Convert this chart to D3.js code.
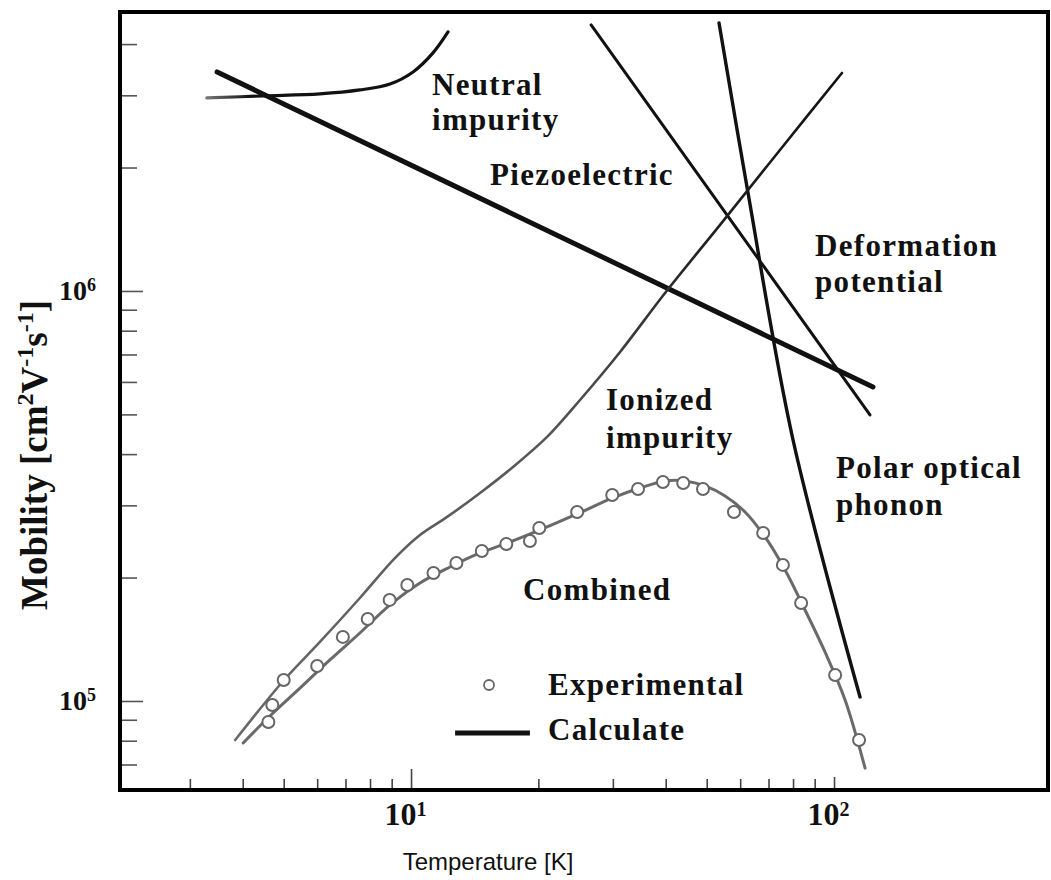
<!DOCTYPE html>
<html><head><meta charset="utf-8">
<script src="https://cdn.jsdelivr.net/npm/d3@7"></script>
<style>body{margin:0;background:#fff}</style>
</head><body>
<svg id="chart" width="1051" height="880"></svg>
<script>
// ---- tick values ----
const xTicks = [3,4,5,6,7,8,9,10,20,30,40,50,60,70,80,90,100];
const xMajor = [10,100];
const yTicks = [7e4,8e4,9e4,1e5,2e5,3e5,4e5,5e5,6e5,7e5,8e5,9e5,1e6,2e6,3e6,4e6];
const yMajor = [1e5,1e6];

// ---- experimental points ----
const expT  = [4.6,4.7,5.0,6.0,6.9,7.9,8.9,9.8,11.3,12.8,14.7,16.8,19.1,20.1,24.7,29.9,34.4,39.4,44.0,49.0,58.0,68.0,75.7,83.6,100.6,114.6];
const expMu = [88900,97800,112500,121700,143300,158500,176400,191800,205200,217100,232200,241500,245600,264200,289100,318000,328900,342100,340200,328900,289100,256900,214700,173400,115700,80300];

// ---- calculated curves ----
const combT  = [4.01,4.64,5.47,6.43,7.57,8.92,10.5,12.36,14.56,17.14,20.18,24.69,29.87,34.78,39.86,44.45,49.55,55.25,61.6,68.7,76.6,85.4,95.2,106.2,118.4];
const combMu = [79000,91900,107600,125900,146500,171500,194000,212200,229600,244200,261300,285800,312600,330700,344000,344000,334500,316200,289100,251200,208700,166700,131700,100600,68600];

const ionT  = [3.84,5.01,6.09,7.57,9.17,10.5,12.17,14.56,17.42,20.97,25.09,31.2,39.86,53.77,74.5,104.4];
const ionMu = [80300,112500,139300,178300,223300,254000,281100,321600,372100,440500,542100,709900,988800,1449000,2207000,3401000];

const neuT  = [3.29,4.47,6.09,7.57,8.92,10.11,11.27,12.23];
const neuMu = [2956000,2990000,3024000,3092000,3197000,3421000,3807000,4282000];

const piezoT  = [3.48,123.6];
const piezoMu = [3421000,583200];

const defT  = [26.65,121.6];
const defMu = [4455000,498500];

const polT  = [53.47,62.62,80.0,115.2];
const polMu = [4505000,1734000,433000,102300];

// ---- annotation anchors (data units) ----
const labelText = ["Neutral","impurity","Piezoelectric","Deformation","potential","Ionized","impurity","Polar optical","phonon","Combined"];
const labelT    = [11.21,11.21,15.38,90.2,90.2,28.9,28.9,101.1,101.1,18.4];
const labelMu   = [3.006e6,2.470e6,1.814e6,1.217e6,0.994e6,5.127e5,4.141e5,3.499e5,2.843e5,1.764e5];

const svg = d3.select("#chart");
const L = 120, R = 1048, T = 12, B = 790;

const x = d3.scaleLog().domain([2.051, 320.5]).range([L, R]);
const y = d3.scaleLog().domain([60660, 4.79e6]).range([B, T]);

const serif = "'Liberation Serif','Times New Roman',serif";

// ---- axes ----
const xAxis = d3.axisBottom(x).tickValues(xTicks).tickSizeInner(-11).tickSizeOuter(0).tickPadding(12)
  .tickFormat(d => "");
const gx = svg.append("g").attr("transform", `translate(0,${B})`).call(xAxis);
gx.select(".domain").remove();
gx.selectAll(".tick line").attr("stroke", "#444").attr("stroke-width", 1.6)
  .attr("y2", d => d === 10 ? -21 : (d === 100 ? -13 : -11));
gx.selectAll(".tick text").each(function(d) {
  if (xMajor.includes(d)) {
    const t = d3.select(this).text("").attr("font-family", serif).attr("font-weight", "bold")
      .attr("font-size", 32).attr("fill", "#111").attr("dx", -6);
    t.append("tspan").text("10");
    t.append("tspan").attr("font-size", 20).attr("dy", -9).text(Math.round(Math.log10(d)));
  }
});

const yAxis = d3.axisLeft(y).tickValues(yTicks).tickSizeInner(-17).tickSizeOuter(0).tickPadding(24)
  .tickFormat(d => "");
const gy = svg.append("g").attr("transform", `translate(${L},0)`).call(yAxis);
gy.select(".domain").remove();
gy.selectAll(".tick line").attr("stroke", "#555").attr("stroke-width", 1.6)
  .attr("x2", d => yMajor.includes(d) ? 23 : 17);
gy.selectAll(".tick text").each(function(d) {
  if (yMajor.includes(d)) {
    const t = d3.select(this).text("").attr("font-family", serif).attr("font-weight", "bold")
      .attr("font-size", 28).attr("fill", "#111").attr("dy", "0.3em");
    t.append("tspan").text("10");
    t.append("tspan").attr("font-size", 18).attr("dy", -9).text(Math.round(Math.log10(d)));
  }
});

// frame
svg.append("rect").attr("x", L).attr("y", T).attr("width", R - L).attr("height", B - T)
  .attr("fill", "none").attr("stroke", "#000").attr("stroke-width", 4);

// ---- lines ----
const line = d3.line().x(d => x(d[0])).y(d => y(d[1])).curve(d3.curveCatmullRom.alpha(0.5));
const zipP = (a, b) => a.map((v, i) => [v, b[i]]);

const defs = svg.append("defs");
const grad = defs.append("linearGradient").attr("id", "ionGrad").attr("gradientUnits", "userSpaceOnUse")
  .attr("x1", x(ionT[0])).attr("y1", y(ionMu[0]))
  .attr("x2", x(ionT[ionT.length - 1])).attr("y2", y(ionMu[ionMu.length - 1]));
grad.append("stop").attr("offset", 0).attr("stop-color", "#6a6a6a");
grad.append("stop").attr("offset", 0.5).attr("stop-color", "#555");
grad.append("stop").attr("offset", 0.75).attr("stop-color", "#222");
grad.append("stop").attr("offset", 1).attr("stop-color", "#111");

const neuGrad = defs.append("linearGradient").attr("id", "neuGrad").attr("gradientUnits", "userSpaceOnUse")
  .attr("x1", x(neuT[0])).attr("y1", 0).attr("x2", x(neuT[neuT.length - 1])).attr("y2", 0);
neuGrad.append("stop").attr("offset", 0).attr("stop-color", "#777");
neuGrad.append("stop").attr("offset", 0.18).attr("stop-color", "#111");
neuGrad.append("stop").attr("offset", 1).attr("stop-color", "#111");

const series = [
  {pts: zipP(neuT, neuMu), color: "url(#neuGrad)", w: 3.2},
  {pts: zipP(piezoT, piezoMu), color: "#111", w: 5},
  {pts: zipP(defT, defMu), color: "#111", w: 3.0},
  {pts: zipP(polT, polMu), color: "#111", w: 3.4},
  {pts: zipP(ionT, ionMu), color: "url(#ionGrad)", w: 2.6},
  {pts: zipP(combT, combMu), color: "#6a6a6a", w: 3.0}
];
svg.append("g").selectAll("path").data(series).join("path")
  .attr("d", d => line(d.pts)).attr("fill", "none")
  .attr("stroke", d => d.color).attr("stroke-width", d => d.w)
  .attr("stroke-linecap", "round").attr("stroke-linejoin", "round");

// ---- experimental circles ----
svg.append("g").selectAll("circle").data(zipP(expT, expMu)).join("circle")
  .attr("cx", d => x(d[0])).attr("cy", d => y(d[1])).attr("r", 6)
  .attr("fill", "#fff").attr("stroke", "#666").attr("stroke-width", 2);

// ---- curve labels ----
const labelStyle = s => s.attr("font-family", serif).attr("font-weight", "bold")
  .attr("font-size", 31).attr("letter-spacing", 1.3).attr("fill", "#111");
svg.append("g").selectAll("text").data(labelText).join("text")
  .attr("x", (d, i) => x(labelT[i])).attr("y", (d, i) => y(labelMu[i]))
  .call(labelStyle).text(d => d);

// ---- legend ----
const lg = svg.append("g");
lg.append("circle").attr("cx", x(15.29)).attr("cy", y(1.094e5)).attr("r", 5)
  .attr("fill", "#fff").attr("stroke", "#666").attr("stroke-width", 1.8);
lg.append("text").attr("x", x(21.08)).attr("y", y(1.034e5)).call(labelStyle).text("Experimental");
lg.append("line").attr("x1", x(12.71)).attr("x2", x(19.1)).attr("y1", y(83550)).attr("y2", y(83550))
  .attr("stroke", "#111").attr("stroke-width", 5);
lg.append("text").attr("x", x(21.08)).attr("y", y(80340)).call(labelStyle).text("Calculate");

// ---- axis titles ----
svg.append("text").attr("x", 488).attr("y", 870).attr("text-anchor", "middle")
  .attr("font-family", "'Liberation Sans',Arial,sans-serif").attr("font-size", 24).attr("fill", "#111")
  .text("Temperature [K]");

const yt = svg.append("text").attr("transform", "translate(47,455) rotate(-90)").attr("text-anchor", "middle")
  .attr("font-family", serif).attr("font-weight", "bold").attr("font-size", 37).attr("fill", "#111");
yt.append("tspan").text("Mobility [cm");
yt.append("tspan").attr("font-size", 24).attr("dy", -14).text("2");
yt.append("tspan").attr("dy", 14).text("V");
yt.append("tspan").attr("font-size", 24).attr("dy", -14).text("-1");
yt.append("tspan").attr("dy", 14).text("s");
yt.append("tspan").attr("font-size", 24).attr("dy", -14).text("-1");
yt.append("tspan").attr("dy", 14).text("]");
</script>
</body></html>
